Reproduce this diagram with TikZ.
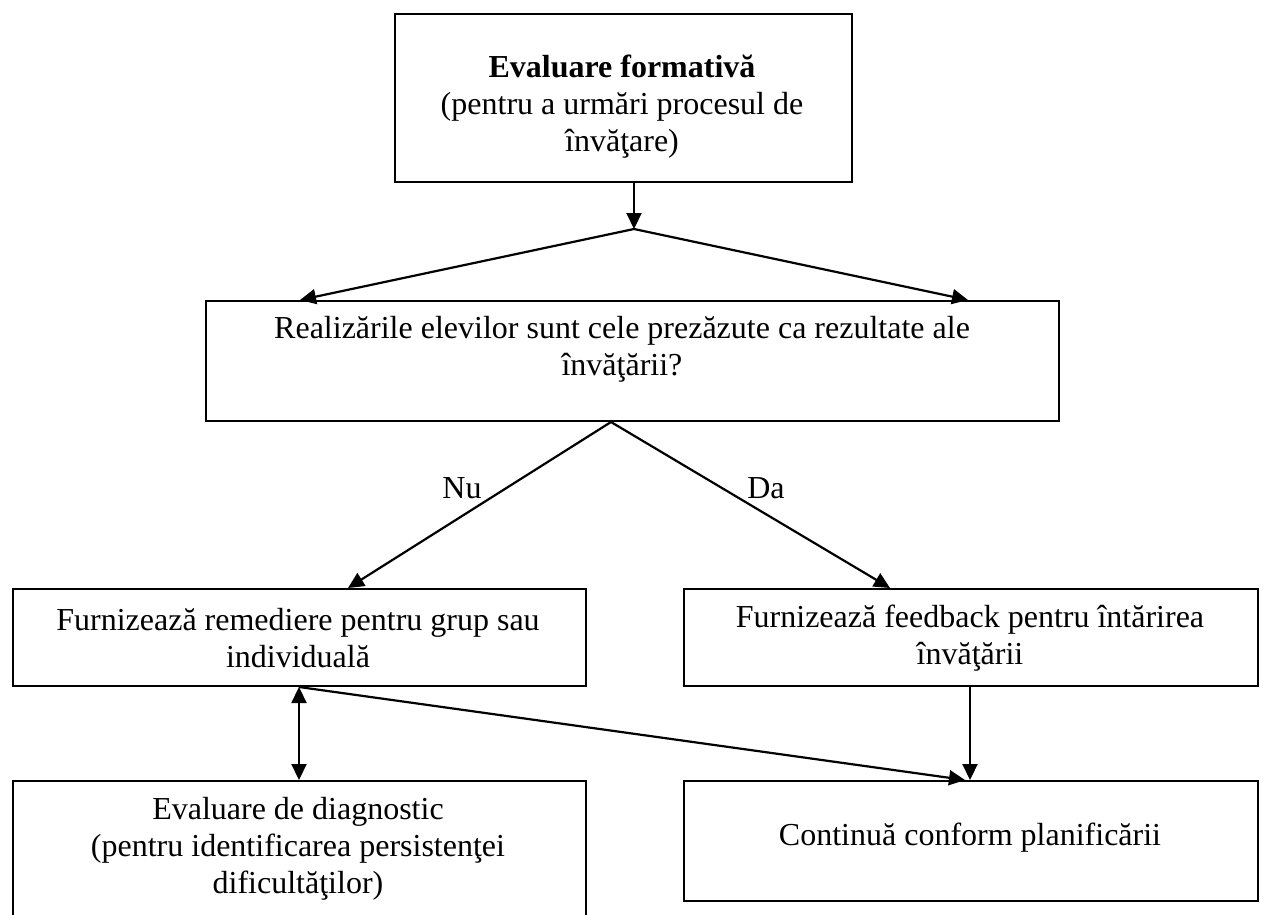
\documentclass[tikz,border=0pt]{standalone}
\usepackage{fontspec}
\setmainfont{Liberation Serif}
\usetikzlibrary{arrows.meta,calc}
\begin{document}
\begin{tikzpicture}[x=0.5pt,y=-0.5pt,
  box/.style={draw, line width=1pt, inner sep=0pt, anchor=north west, rectangle},
  txt/.style={align=center, font=\fontsize{16}{18.5}\selectfont, inner sep=0pt},
  link/.style={line width=1.1pt},
  arr/.style={line width=1.1pt, -{Triangle[length=8pt,width=7.5pt]}},
  darr/.style={line width=1.1pt, {Triangle[length=8pt,width=7.5pt]}-{Triangle[length=8pt,width=7.5pt]}}]
\useasboundingbox (0,0) rectangle (1264,915);
\fill[white] (0,0) rectangle (1264,915);
\clip (0,0) rectangle (1264,915);
% boxes
\node[box, minimum width=228.5pt, minimum height=84pt] (top) at (394,13) {};
\node[box, minimum width=426.5pt, minimum height=60pt] (q) at (205,300) {};
\node[box, minimum width=286.5pt, minimum height=48.5pt] (rem) at (12,588) {};
\node[box, minimum width=287pt, minimum height=48.5pt] (fb) at (683,588) {};
\node[box, minimum width=286.5pt, minimum height=75pt] (diag) at (12,780) {};
\node[box, minimum width=287pt, minimum height=60pt] (cont) at (683,780) {};
% texts
\node[txt] (ttop) at (622,107) {\textbf{Evaluare formativă}\\(pentru a urmări procesul de\\învăţare)};
\node[txt] (tq) at (622,349) {Realizările elevilor sunt cele prezăzute ca rezultate ale\\învăţării?};
\node[txt] (trem) at (298,638) {Furnizează remediere pentru grup sau\\individuală};
\node[txt] (tfb) at (970,638) {Furnizează feedback pentru întărirea\\învăţării};
\node[txt] (tdiag) at (298,849) {Evaluare de diagnostic\\(pentru identificarea persistenţei\\dificultăţilor)};
\node[txt] (tcont) at (970,838) {Continuă conform planificării};
\node[txt] (nu) at (462,488) {Nu};
\node[txt] (da) at (766,488) {Da};
% coordinates
\coordinate (a1) at (634,229);
\coordinate (l1) at (300,0);
\coordinate (r1) at (968,0);
\coordinate (a2) at (611,0);
\coordinate (nx) at (348,0);
\coordinate (dx) at (890,0);
\coordinate (vx) at (299,0);
\coordinate (cx) at (965,0);
\coordinate (fx) at (970,0);
% connectors
\draw[arr] (top.south -| a1) -- (a1);
\draw[arr] (a1) -- (q.north -| l1);
\draw[arr] (a1) -- (q.north -| r1);
\draw[arr] (q.south -| a2) -- (rem.north -| nx);
\draw[arr] (q.south -| a2) -- (fb.north -| dx);
\draw[darr] (rem.south -| vx) -- (diag.north -| vx);
\draw[arr] (rem.south -| vx) -- (cont.north -| cx);
\draw[arr] (fb.south -| fx) -- (cont.north -| fx);
\end{tikzpicture}
\end{document}
